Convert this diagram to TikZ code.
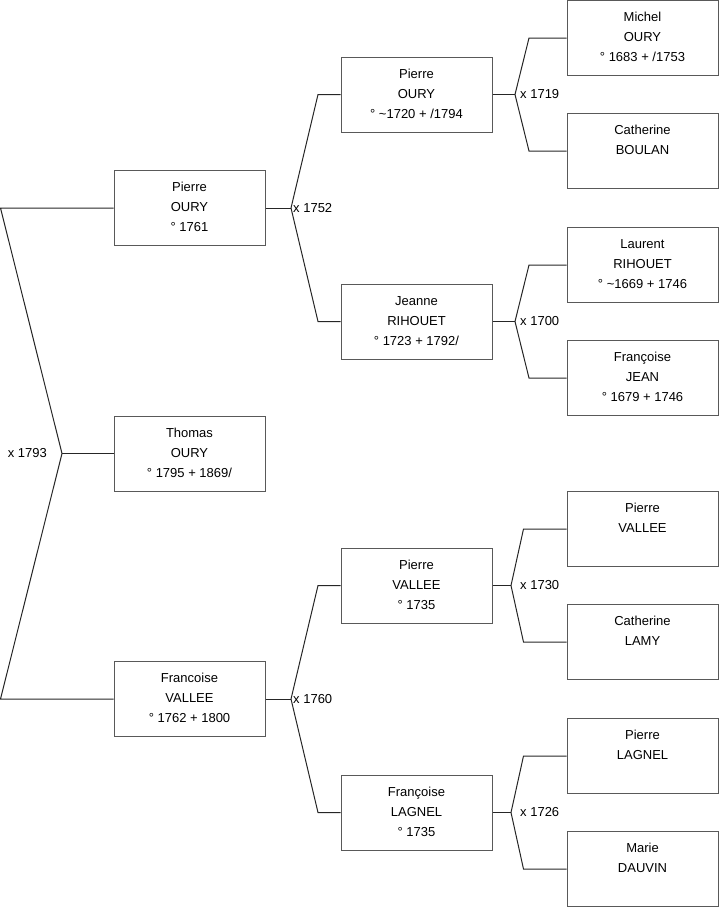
\documentclass[tikz,border=0pt]{standalone}
\usepackage{fontspec}
\setmainfont{Liberation Sans}
\usetikzlibrary{calc}
\newcommand\pbox[1]{\parbox[c][75pt][t]{151pt}{\centering\rule{0pt}{21pt}#1}}
\tikzset{
  person/.style={draw=black!65, line width=1pt, rectangle, inner sep=0pt, minimum width=151pt, minimum height=75pt, fill=white},
  conn/.style={draw=black!85, line width=1pt},
  marr/.style={inner sep=0pt, font=\fontsize{13}{15}\selectfont}
}
\begin{document}
\begin{tikzpicture}[x=1pt,y=-1pt, every node/.style={font=\fontsize{13}{20}\selectfont}]
\useasboundingbox (0,0) rectangle (719,908);
% column 3
\node[person] (m1) at (642.5,38)  {\pbox{Michel\\OURY\\° 1683 + /1753}};
\node[person] (m2) at (642.5,151) {\pbox{Catherine\\BOULAN}};
\node[person] (m3) at (642.5,265) {\pbox{Laurent\\RIHOUET\\° \textasciitilde1669 + 1746}};
\node[person] (m4) at (642.5,378) {\pbox{Françoise\\JEAN\\° 1679 + 1746}};
\node[person] (m5) at (642.5,529) {\pbox{Pierre\\VALLEE}};
\node[person] (m6) at (642.5,642) {\pbox{Catherine\\LAMY}};
\node[person] (m7) at (642.5,756) {\pbox{Pierre\\LAGNEL}};
\node[person] (m8) at (642.5,869) {\pbox{Marie\\DAUVIN}};
% column 2
\node[person] (g1) at (416.5,94.5)  {\pbox{Pierre\\OURY\\° \textasciitilde1720 + /1794}};
\node[person] (g2) at (416.5,321.5) {\pbox{Jeanne\\RIHOUET\\° 1723 + 1792/}};
\node[person] (g3) at (416.5,585.5) {\pbox{Pierre\\VALLEE\\° 1735}};
\node[person] (g4) at (416.5,812.5) {\pbox{Françoise\\LAGNEL\\° 1735}};
% column 1
\node[person] (p1) at (189.5,208)   {\pbox{Pierre\\OURY\\° 1761}};
\node[person] (p2) at (189.5,453.5) {\pbox{Thomas\\OURY\\° 1795 + 1869/}};
\node[person] (p3) at (189.5,699)   {\pbox{Francoise\\VALLEE\\° 1762 + 1800}};
% junctions
\coordinate (j1) at (62,453.5);
\coordinate (j2) at (291,208);
\coordinate (j3) at (291,699);
\coordinate (j4) at (515,94.5);
\coordinate (j5) at (515,321.5);
\coordinate (j6) at (511,585.5);
\coordinate (j7) at (511,812.5);
% connectors
\draw[conn] (p2.west) -- (j1);
\draw[conn] (j1) -- ($(p1.west)+(-113,0)$) -- (p1.west);
\draw[conn] (j1) -- ($(p3.west)+(-113,0)$) -- (p3.west);
\draw[conn] (p1.east) -- (j2);
\draw[conn] (j2) -- ($(g1.west)+(-22.5,0)$) -- (g1.west);
\draw[conn] (j2) -- ($(g2.west)+(-22.5,0)$) -- (g2.west);
\draw[conn] (p3.east) -- (j3);
\draw[conn] (j3) -- ($(g3.west)+(-22.5,0)$) -- (g3.west);
\draw[conn] (j3) -- ($(g4.west)+(-22.5,0)$) -- (g4.west);
\draw[conn] (g1.east) -- (j4);
\draw[conn] (j4) -- ($(m1.west)+(-37.5,0)$) -- (m1.west);
\draw[conn] (j4) -- ($(m2.west)+(-37.5,0)$) -- (m2.west);
\draw[conn] (g2.east) -- (j5);
\draw[conn] (j5) -- ($(m3.west)+(-37.5,0)$) -- (m3.west);
\draw[conn] (j5) -- ($(m4.west)+(-37.5,0)$) -- (m4.west);
\draw[conn] (g3.east) -- (j6);
\draw[conn] (j6) -- ($(m5.west)+(-43,0)$) -- (m5.west);
\draw[conn] (j6) -- ($(m6.west)+(-43,0)$) -- (m6.west);
\draw[conn] (g4.east) -- (j7);
\draw[conn] (j7) -- ($(m7.west)+(-43,0)$) -- (m7.west);
\draw[conn] (j7) -- ($(m8.west)+(-43,0)$) -- (m8.west);
% marriage labels
\node[marr, anchor=east] (l1) at (47,453.5) {x 1793};
\node[marr, anchor=west] (l2) at (293,208) {x 1752};
\node[marr, anchor=west] (l3) at (293,699) {x 1760};
\node[marr, anchor=west] (l4) at (520,94.5) {x 1719};
\node[marr, anchor=west] (l5) at (520,321.5) {x 1700};
\node[marr, anchor=west] (l6) at (520,585.5) {x 1730};
\node[marr, anchor=west] (l7) at (520,812.5) {x 1726};
\end{tikzpicture}
\end{document}
